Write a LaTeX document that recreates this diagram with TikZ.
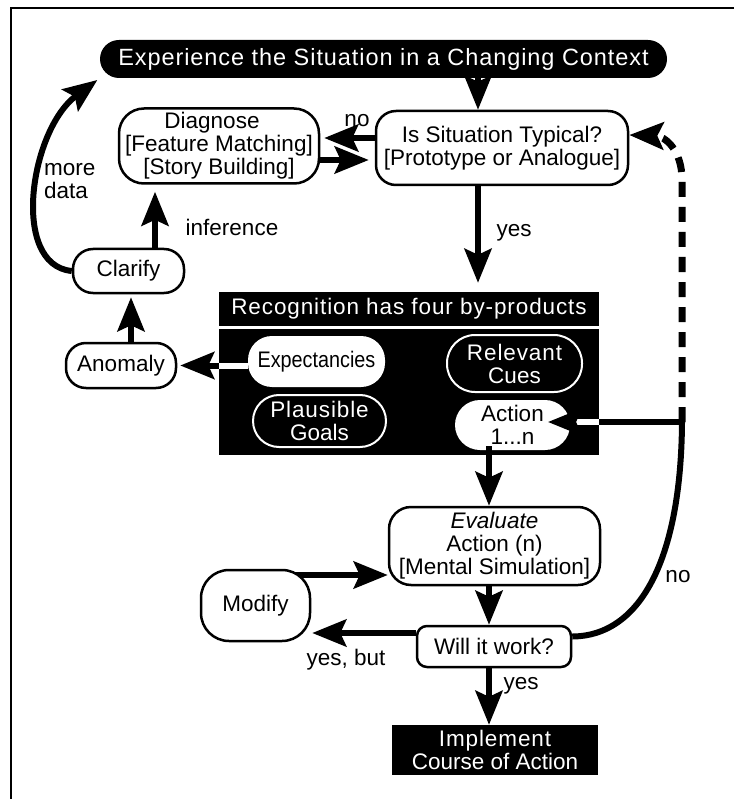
\documentclass[tikz,border=0pt]{standalone}
\usepackage{fontspec}
\setmainfont{Liberation Sans}
\newfontfamily\widefont[LetterSpace=4]{Liberation Sans}
\newfontfamily\narrowfont[FakeStretch=0.88]{Liberation Sans}
\usetikzlibrary{arrows.meta,backgrounds}

\tikzset{
  base/.style={font=\fontsize{22.5}{23}\selectfont, align=center, inner sep=0pt},
  box/.style={base, draw=black, line width=2.5pt, fill=white, rounded corners=#1},
  box/.default=20pt,
  wpill/.style={base, fill=white, rounded corners=#1},
  bpill/.style={base, fill=black, draw=white, line width=2pt, text=white, rounded corners=#1},
  blk/.style={base, fill=black, text=white},
  lbl/.style={base},
  bigtip/.style={-{Stealth[length=34pt 0 0,width=27pt 0,inset=6pt,#1]}},
  bigtip/.default=black,
  arr/.style={line width=6pt, bigtip},
}

\begin{document}
\begin{tikzpicture}[x=1pt,y=-1pt]
\useasboundingbox (0,0) rectangle (734,799);

% frame
\draw[line width=2pt] (734,8) -- (11,8) -- (11,799);

% nodes
\node[blk, rounded corners=19pt, minimum width=567pt, minimum height=38pt] (exp) at (383.5,59)
  {\fontsize{23.5}{24}\widefont Experience the Situation in a Changing Context};
\node[box=20pt, minimum width=252pt, minimum height=74pt] (typ) at (502,148)
  {Is Situation Typical?\\{[}Prototype or Analogue{]}};
\node[box=25pt, minimum width=200pt, minimum height=75pt] (diag) at (219,146)
  {Diagnose\hspace*{14pt}\\{[}Feature Matching{]}\\{[}Story Building{]}};
\node[box=20pt, minimum width=111pt, minimum height=44pt] (clar) at (128.5,271) {Clarify};
\node[box=20pt, minimum width=110pt, minimum height=45pt] (anom) at (121,365.5) {Anomaly};

\node[blk, minimum width=380pt, minimum height=34pt] (rtitle) at (409,309)
  {\widefont Recognition has four by-products};
\node[blk, minimum width=380pt, minimum height=126pt] (rbody) at (409,392) {};
\node[wpill=24pt, minimum width=137pt, minimum height=51pt] (expect) at (316.5,361.5)
  {\narrowfont Expectancies};
\node[bpill=28pt, minimum width=135pt, minimum height=57pt] (cues) at (514.5,363.5) {\widefont Relevant\\Cues};
\node[bpill=26pt, minimum width=133pt, minimum height=52pt] (goals) at (319.5,421) {\widefont Plausible\\Goals};
\node[wpill=25pt, minimum width=115pt, minimum height=50pt] (action) at (512.5,425) {Action\\1...n};

\node[box=22pt, minimum width=211pt, minimum height=78pt] (eval) at (494.5,546)
  {\textit{Evaluate}\\Action (n)\\{[}Mental Simulation{]}};
\node[box=28pt, minimum width=109pt, minimum height=71pt] (modify) at (255.5,605.5) {Modify};
\node[box=10pt, minimum width=154pt, minimum height=41pt] (will) at (494,646.5) {Will it work?};
\node[blk, minimum width=206pt, minimum height=50pt] (impl) at (495,750)
  {\widefont Implement\\Course of Action};

% helper coordinates
\coordinate (c1) at (478,0);
\coordinate (c2) at (489,0);
\coordinate (J) at (682,422);
\coordinate (bend) at (682,180);
\coordinate (actTip) at (548,422);

% connectors
\draw[arr] (exp.south -| c1) -- (typ.north -| c1);
\draw[arr, shorten >=9pt] (typ.south -| c1) -- (rtitle.north -| c1);
\draw[arr, shorten >=4pt] (typ.west |- 0,138) -- (diag.east |- 0,138);
\draw[arr, shorten >=6pt] (diag.east |- 0,160) -- (typ.west |- 0,160);
\draw[arr, shorten >=7pt] (clar.north -| 155,0) -- (diag.south -| 155,0);
\draw[arr, shorten >=3pt] (clar.west) .. controls (10,265) and (30,130) .. (exp.south west);
\draw[arr, shorten >=3pt] (anom.north -| 131,0) -- (clar.south -| 131,0);

\draw[line width=6pt, white] (expect.west |- anom.east) -- (rbody.west |- anom.east);
\draw[arr, shorten >=3pt] (rbody.west |- anom.east) -- (anom.east);

\draw[line width=6pt] (J) -- (rbody.east |- J);
\draw[line width=6pt, white, bigtip=black] (rbody.east |- J) -- (actTip);

\draw[arr, shorten <=-4pt] (action.south -| c2) -- (eval.north -| c2);
\draw[arr] (eval.south -| c2) -- (will.north -| c2);
\draw[arr] (will.south -| c2) -- (impl.north -| c2);
\draw[arr, shorten >=1pt] (will.west |- 0,633) -- (modify.east |- 0,633);
\begin{pgfonlayer}{background}
  \draw[arr] (modify.center |- 0,575) -- (eval.west |- 0,575);
\end{pgfonlayer}

\draw[line width=6pt] ([yshift=10pt]will.east) .. controls (640,636) and (681,560) .. (J);
\draw[line width=7pt, dash pattern=on 15pt off 10pt, bigtip]
  (J) -- (bend) .. controls (682,150) and (665,136) .. (typ.east |- 0,135);

% labels
\node[lbl] (lno1) at (357,121) {no};
\node[lbl] (linf) at (232,227) {inference};
\node[lbl, anchor=west, align=left] (lmore) at (44,181) {more\\data};
\node[lbl] (lyes1) at (514,233) {yes};
\node[lbl] (lbut) at (346,660) {yes, but};
\node[lbl] (lno2) at (678,577) {no};
\node[lbl] (lyes2) at (521,686) {yes};
\end{tikzpicture}
\end{document}
